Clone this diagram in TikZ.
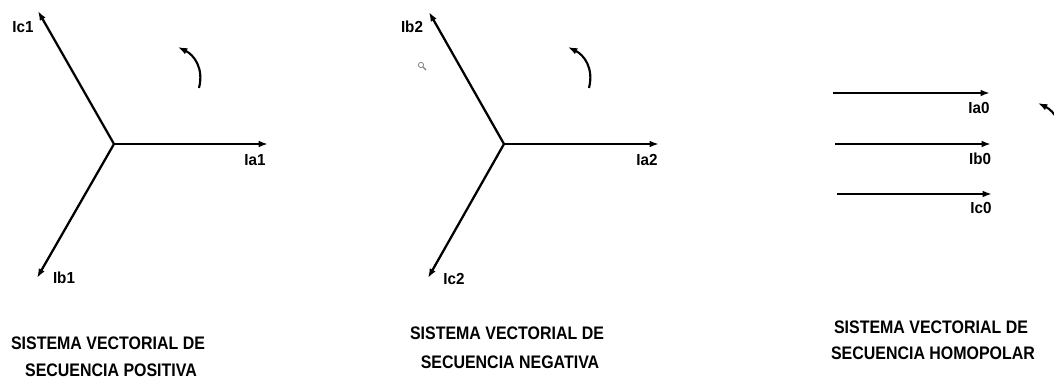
\documentclass[tikz,border=0pt]{standalone}
\usepackage{fontspec}
\setmainfont{Liberation Sans}
\usetikzlibrary{arrows.meta}
\tikzset{
  vec/.style={line width=1.7pt,-{Latex[length=7pt,width=5pt]}},
  rot/.style={line width=1.6pt,-{Latex[length=7pt,width=5pt]}},
  lbl/.style={font=\bfseries\fontsize{12pt}{13pt}\selectfont,xscale=0.95,inner sep=0pt},
  title/.style={font=\bfseries\fontsize{13.6pt}{14pt}\selectfont,xscale=0.88,inner sep=0pt}
}
\begin{document}
\begin{tikzpicture}[x=0.75pt,y=-0.75pt]
\useasboundingbox (0,0) rectangle (1054,378);
\begin{scope}
\clip (0,0) rectangle (1054,378);
% ---- positive sequence ----
\coordinate (o1) at (114,144);
\coordinate (ta1) at (268,144);
\coordinate (tc1) at (38,11);
\coordinate (tb1) at (37,278);
\draw[vec] (o1) -- (ta1);
\draw[vec] (o1) -- (tc1);
\draw[vec] (o1) -- (tb1);
\node[lbl] (la1) at (255,160) {Ia1};
\node[lbl] (lc1) at (23,27) {Ic1};
\node[lbl] (lb1) at (64,278) {Ib1};
\coordinate (r1s) at (199,88);
\coordinate (r1e) at (178,47);
\draw[rot] (r1s) .. controls (204,68) and (194,55) .. (r1e);
\node[title] (t1a) at (108,343) {SISTEMA VECTORIAL DE};
\node[title] (t1b) at (111,370) {SECUENCIA POSITIVA};
% ---- negative sequence ----
\coordinate (o2) at (504,144);
\coordinate (ta2) at (659,144);
\coordinate (tb2) at (429,12);
\coordinate (tc2) at (428,278);
\draw[vec] (o2) -- (ta2);
\draw[vec] (o2) -- (tb2);
\draw[vec] (o2) -- (tc2);
\node[lbl] (la2) at (647,160) {Ia2};
\node[lbl] (lb2) at (412,27) {Ib2};
\node[lbl] (lc2) at (454,279) {Ic2};
\coordinate (r2s) at (589,88);
\coordinate (r2e) at (568,47);
\draw[rot] (r2s) .. controls (594,68) and (584,55) .. (r2e);
\node[title] (t2a) at (507,333) {SISTEMA VECTORIAL DE};
\node[title] (t2b) at (510,362) {SECUENCIA NEGATIVA};
% magnifier mark
\draw[gray,line width=0.6pt] (421,65) circle (2.6);
\draw[gray,line width=1pt] (423,67) -- (426,70);
% ---- zero sequence ----
\coordinate (sa0) at (833,93);
\coordinate (ea0) at (990,93);
\coordinate (sb0) at (835,144);
\coordinate (eb0) at (991,144);
\coordinate (sc0) at (837,194);
\coordinate (ec0) at (992,194);
\draw[vec] (sa0) -- (ea0);
\draw[vec] (sb0) -- (eb0);
\draw[vec] (sc0) -- (ec0);
\node[lbl] (la0) at (979,108) {Ia0};
\node[lbl] (lb0) at (980,159) {Ib0};
\node[lbl] (lc0) at (981,208) {Ic0};
\coordinate (r3s) at (1059,144);
\coordinate (r3e) at (1038,103);
\draw[rot] (r3s) .. controls (1064,124) and (1054,111) .. (r3e);
\node[title] (t3a) at (931,327) {SISTEMA VECTORIAL DE};
\node[title] (t3b) at (933,353) {SECUENCIA HOMOPOLAR};
\end{scope}
\end{tikzpicture}
\end{document}
